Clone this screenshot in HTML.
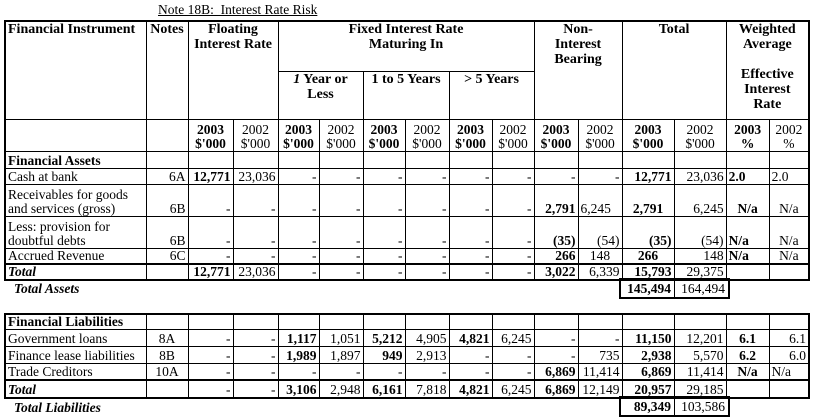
<!DOCTYPE html>
<html><head><meta charset="utf-8"><style>
body{margin:0;width:816px;height:420px;background:#fff;position:relative;overflow:hidden;font-family:"Liberation Serif",serif;font-size:13.5px;color:#000}
.t{position:absolute;left:4px;border-collapse:collapse;table-layout:fixed;border:2px solid #000}
.t td{border:1px solid #000;padding:0 2px;text-align:right;vertical-align:bottom;white-space:nowrap;overflow:hidden;line-height:14px}
.t td.l{text-align:left}
.t td.c{text-align:center}
.b{font-weight:bold}
.h td{vertical-align:top;text-align:center;font-weight:bold;font-size:14px;line-height:15px}
.i{font-style:italic;font-weight:bold}
.box{position:absolute;border:2px solid #000;display:flex;height:17px;line-height:17px}
.box div{text-align:right;padding-right:3px}
</style></head><body>
<div style="position:absolute;left:158px;top:2px;text-decoration:underline;font-size:13.5px">Note 18B:&nbsp; Interest Rate Risk</div>
<table class="t" style="top:20px;width:806px">
<colgroup><col style="width:141px"><col style="width:42px"><col style="width:45px"><col style="width:45px"><col style="width:41px"><col style="width:44px"><col style="width:42px"><col style="width:44px"><col style="width:43px"><col style="width:42px"><col style="width:44px"><col style="width:44px"><col style="width:52px"><col style="width:52px"><col style="width:43px"><col style="width:40px"></colgroup>
<tr class="h" style="height:50px"><td rowspan="2" class="l">Financial Instrument</td><td rowspan="2">Notes</td><td colspan="2" rowspan="2">Floating<br>Interest Rate</td><td colspan="6">Fixed Interest Rate<br>Maturing In</td><td colspan="2" rowspan="2">Non-<br>Interest<br>Bearing</td><td colspan="2" rowspan="2">Total</td><td colspan="2" rowspan="2">Weighted<br>Average<br><br>Effective<br>Interest<br>Rate</td></tr>
<tr class="h" style="height:48px"><td colspan="2"><i>1</i> Year or<br>Less</td><td colspan="2">1 to 5 Years</td><td colspan="2">&gt; 5 Years</td></tr>
<tr style="height:32px"><td></td><td></td><td class="b c">2003<br>$'000</td><td class="c">2002<br>$'000</td><td class="b c">2003<br>$'000</td><td class="c">2002<br>$'000</td><td class="b c">2003<br>$'000</td><td class="c">2002<br>$'000</td><td class="b c">2003<br>$'000</td><td class="c">2002<br>$'000</td><td class="b c">2003<br>$'000</td><td class="c">2002<br>$'000</td><td class="b c">2003<br>$'000</td><td class="c">2002<br>$'000</td><td class="b c">2003<br>%</td><td class="c">2002<br>%</td></tr>
<tr style="height:17px"><td class="l b">Financial Assets</td><td></td><td></td><td></td><td></td><td></td><td></td><td></td><td></td><td></td><td></td><td></td><td></td><td></td><td></td><td></td></tr>
<tr style="height:16px"><td class="l">Cash at bank</td><td>6A</td><td class="b">12,771</td><td>23,036</td><td>-</td><td>-</td><td>-</td><td>-</td><td>-</td><td>-</td><td>-</td><td>-</td><td class="b">12,771</td><td>23,036</td><td class="l b">2.0</td><td class="l">2.0</td></tr>
<tr style="height:32px"><td class="l">Receivables for goods<br>and services (gross)</td><td>6B</td><td>-</td><td>-</td><td>-</td><td>-</td><td>-</td><td>-</td><td>-</td><td>-</td><td class="b">2,791</td><td class="l">6,245</td><td class="b c">2,791</td><td>6,245</td><td class="b c">N/a</td><td class="c">N/a</td></tr>
<tr style="height:32px"><td class="l">Less: provision for<br>doubtful debts</td><td>6B</td><td>-</td><td>-</td><td>-</td><td>-</td><td>-</td><td>-</td><td>-</td><td>-</td><td class="b">(35)</td><td>(54)</td><td class="b">(35)</td><td>(54)</td><td class="b l">N/a</td><td class="c">N/a</td></tr>
<tr style="height:15px"><td class="l">Accrued Revenue</td><td>6C</td><td>-</td><td>-</td><td>-</td><td>-</td><td>-</td><td>-</td><td>-</td><td>-</td><td class="b">266</td><td class="c">148</td><td class="b c">266</td><td>148</td><td class="b l">N/a</td><td class="c">N/a</td></tr>
<tr style="height:16px;border-top:2px solid #000"><td class="l i">Total</td><td></td><td class="b">12,771</td><td>23,036</td><td>-</td><td>-</td><td>-</td><td>-</td><td>-</td><td>-</td><td class="b">3,022</td><td>6,339</td><td class="b">15,793</td><td>29,375</td><td></td><td></td></tr>
</table>
<div class="i" style="position:absolute;left:14px;top:281px">Total Assets</div>
<div class="box" style="left:619px;top:278px"><div class="b" style="width:50px;border-right:1px solid #000">145,494</div><div style="width:50px">164,494</div></div>
<table class="t" style="top:313px;width:806px">
<colgroup><col style="width:141px"><col style="width:42px"><col style="width:45px"><col style="width:45px"><col style="width:41px"><col style="width:44px"><col style="width:42px"><col style="width:44px"><col style="width:43px"><col style="width:42px"><col style="width:44px"><col style="width:44px"><col style="width:52px"><col style="width:52px"><col style="width:43px"><col style="width:40px"></colgroup>
<tr style="height:15px"><td class="l b">Financial Liabilities</td><td></td><td></td><td></td><td></td><td></td><td></td><td></td><td></td><td></td><td></td><td></td><td></td><td></td><td></td><td></td></tr>
<tr style="height:17px"><td class="l">Government loans</td><td class="c">8A</td><td>-</td><td>-</td><td class="b">1,117</td><td>1,051</td><td class="b">5,212</td><td>4,905</td><td class="b">4,821</td><td>6,245</td><td>-</td><td>-</td><td class="b">11,150</td><td>12,201</td><td class="b c">6.1</td><td>6.1</td></tr>
<tr style="height:17px"><td class="l">Finance lease liabilities</td><td class="c">8B</td><td>-</td><td>-</td><td class="b">1,989</td><td>1,897</td><td class="b">949</td><td>2,913</td><td>-</td><td>-</td><td>-</td><td>735</td><td class="b">2,938</td><td>5,570</td><td class="b c">6.2</td><td>6.0</td></tr>
<tr style="height:16px"><td class="l">Trade Creditors</td><td class="c">10A</td><td>-</td><td>-</td><td>-</td><td>-</td><td>-</td><td>-</td><td>-</td><td>-</td><td class="b">6,869</td><td>11,414</td><td class="b">6,869</td><td>11,414</td><td class="b c">N/a</td><td class="l">N/a</td></tr>
<tr style="height:18px;border-top:2px solid #000"><td class="l i">Total</td><td></td><td>-</td><td>-</td><td class="b">3,106</td><td>2,948</td><td class="b">6,161</td><td>7,818</td><td class="b">4,821</td><td>6,245</td><td class="b">6,869</td><td>12,149</td><td class="b">20,957</td><td>29,185</td><td></td><td></td></tr>
</table>
<div class="i" style="position:absolute;left:14px;top:400px">Total Liabilities</div>
<div class="box" style="left:619px;top:396px"><div class="b" style="width:50px;border-right:1px solid #000">89,349</div><div style="width:50px">103,586</div></div>
</body></html>
